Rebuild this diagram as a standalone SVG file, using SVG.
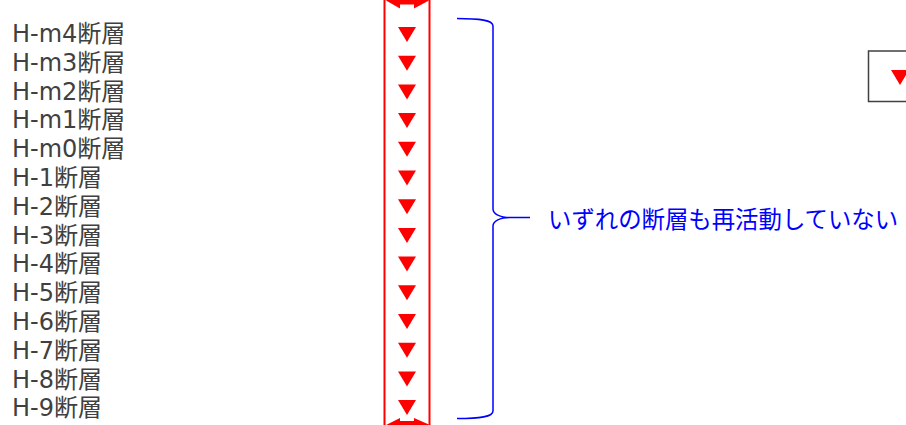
<svg xmlns="http://www.w3.org/2000/svg" xmlns:xlink="http://www.w3.org/1999/xlink" width="906" height="425" viewBox="0 0 906 425">
<style>
.lbl{font-family:"DejaVu Sans","Noto Sans CJK JP",sans-serif;font-size:24px;fill:#404040}
.note{font-family:"Noto Sans CJK JP",sans-serif;font-size:23.4px;fill:#0000FF}
.tri{fill:#FF0000}
.brace{fill:none;stroke:#0000FF;stroke-width:1.5}
</style>
<defs>
<path id="tri" d="M-9,0 L9,0 L0,15 Z"/>
</defs>
<rect width="906" height="425" fill="#ffffff"/>
<g id="range-bar">
<rect x="384.5" y="-10" width="45" height="445" fill="none" stroke="#FF0000" stroke-width="2"/>
<path d="M386,0.5 L400,-7.5 L400,-3.5 L414,-3.5 L414,-7.5 L429,0.5 L414,8.5 L414,4.5 L400,4.5 L400,8.5 Z" fill="#FF0000"/>
<path d="M386,425 L400,418 L400,421 L414,421 L414,418 L430,425 L414,432 L400,432 Z" fill="#FF0000"/>
</g>
<g id="markers" class="tri">
<use xlink:href="#tri" x="407" y="27"/>
<use xlink:href="#tri" x="407" y="55.7"/>
<use xlink:href="#tri" x="407" y="84.4"/>
<use xlink:href="#tri" x="407" y="113.1"/>
<use xlink:href="#tri" x="407" y="141.8"/>
<use xlink:href="#tri" x="407" y="170.5"/>
<use xlink:href="#tri" x="407" y="199.2"/>
<use xlink:href="#tri" x="407" y="227.9"/>
<use xlink:href="#tri" x="407" y="256.6"/>
<use xlink:href="#tri" x="407" y="285.3"/>
<use xlink:href="#tri" x="407" y="314"/>
<use xlink:href="#tri" x="407" y="342.7"/>
<use xlink:href="#tri" x="407" y="371.4"/>
<use xlink:href="#tri" x="407" y="400.1"/>
</g>
<g id="labels">
<text class="lbl" x="12" y="42">H-m4断層</text>
<text class="lbl" x="12" y="70.8">H-m3断層</text>
<text class="lbl" x="12" y="99.6">H-m2断層</text>
<text class="lbl" x="12" y="128.4">H-m1断層</text>
<text class="lbl" x="12" y="157.2">H-m0断層</text>
<text class="lbl" x="12" y="186">H-1断層</text>
<text class="lbl" x="12" y="214.8">H-2断層</text>
<text class="lbl" x="12" y="243.6">H-3断層</text>
<text class="lbl" x="12" y="272.4">H-4断層</text>
<text class="lbl" x="12" y="301.2">H-5断層</text>
<text class="lbl" x="12" y="330">H-6断層</text>
<text class="lbl" x="12" y="358.8">H-7断層</text>
<text class="lbl" x="12" y="387.6">H-8断層</text>
<text class="lbl" x="12" y="416.4">H-9断層</text>
</g>
<g id="connectors">
<path class="brace" d="M457,18.5 C480,18.5 493,20 493,26 L493,209 C493,214 500,217.5 510,217.5 L530,217.5 M510,217.5 C500,217.5 493,221 493,226 L493,411 C493,417 480,418.5 457,418.5"/>
</g>
<g id="note">
<text class="note" x="548" y="227.5">いずれの断層も再活動していない</text>
</g>
<g id="legend">
<rect x="868.5" y="51" width="60" height="50.5" fill="none" stroke="#404040" stroke-width="1.5"/>
<use xlink:href="#tri" class="tri" x="900" y="70"/>
</g>
</svg>
